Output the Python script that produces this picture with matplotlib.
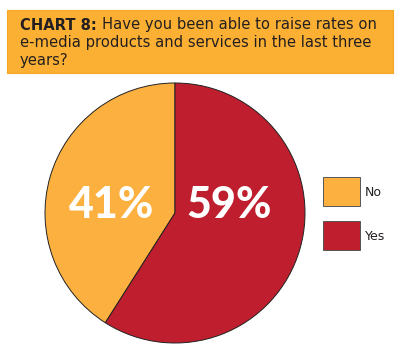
import matplotlib.pyplot as plt
from matplotlib.patches import Rectangle

# Chart data
labels = ["No", "Yes"]
values = [41, 59]
colors = ["#FBB040", "#BE1E2D"]
pct_text = ["41%", "59%"]
title_bold = "CHART 8:"
title_lines = ["Have you been able to raise rates on",
               "e-media products and services in the last three",
               "years?"]

fig = plt.figure(figsize=(4.0, 3.49), dpi=100)
W, H = 400, 349


def fx(x):
    return x / W


def fy(y):
    return 1 - y / H


# Title box
fig.patches.append(Rectangle((fx(7), fy(73)), fx(393) - fx(7), fy(10) - fy(73),
                             transform=fig.transFigure, facecolor="#FBB034",
                             edgecolor="#F5A623", lw=0.8))
tsize = 10.6
tcol = "#231F20"
bold = fig.text(fx(20), fy(25), title_bold, fontsize=tsize, fontweight="bold",
                family="DejaVu Sans", va="center", ha="left", color=tcol)
renderer = fig.canvas.get_renderer()
bx = bold.get_window_extent(renderer).x1
fig.text(fx(bx + 5), fy(25), title_lines[0], fontsize=tsize, color=tcol,
         family="DejaVu Sans", va="center", ha="left")
fig.text(fx(20), fy(43), title_lines[1], fontsize=tsize, color=tcol,
         family="DejaVu Sans", va="center", ha="left")
fig.text(fx(20), fy(60), title_lines[2], fontsize=tsize, color=tcol,
         family="DejaVu Sans", va="center", ha="left")

# Pie
cx, cy, r = 175, 213, 130
ax = fig.add_axes([fx(cx - r), fy(cy + r), 2 * r / W, 2 * r / H])
wedges, _ = ax.pie(values, colors=colors, startangle=90, counterclock=True,
                   wedgeprops=dict(edgecolor="#222222", linewidth=0.7))
ax.set_aspect("auto")
ax.set_xlim(-1, 1)
ax.set_ylim(-1, 1)
ax.axis("off")

fig.text(fx(112), fy(205), pct_text[0], color="white", fontsize=31,
         fontweight="black", family="Lato", ha="center", va="center")
fig.text(fx(229), fy(205), pct_text[1], color="white", fontsize=31,
         fontweight="black", family="Lato", ha="center", va="center")

# Legend
for i, (lab, col) in enumerate(zip(labels, colors)):
    top = 177 + i * 44
    fig.patches.append(Rectangle((fx(323), fy(top + 29)), fx(360) - fx(323),
                                 fy(top) - fy(top + 29), transform=fig.transFigure,
                                 facecolor=col, edgecolor="#555555", lw=0.7))
    fig.text(fx(365), fy(top + 15), lab, fontsize=9, family="DejaVu Sans",
             va="center", ha="left", color=tcol)

plt.savefig("out.png", dpi=100)
